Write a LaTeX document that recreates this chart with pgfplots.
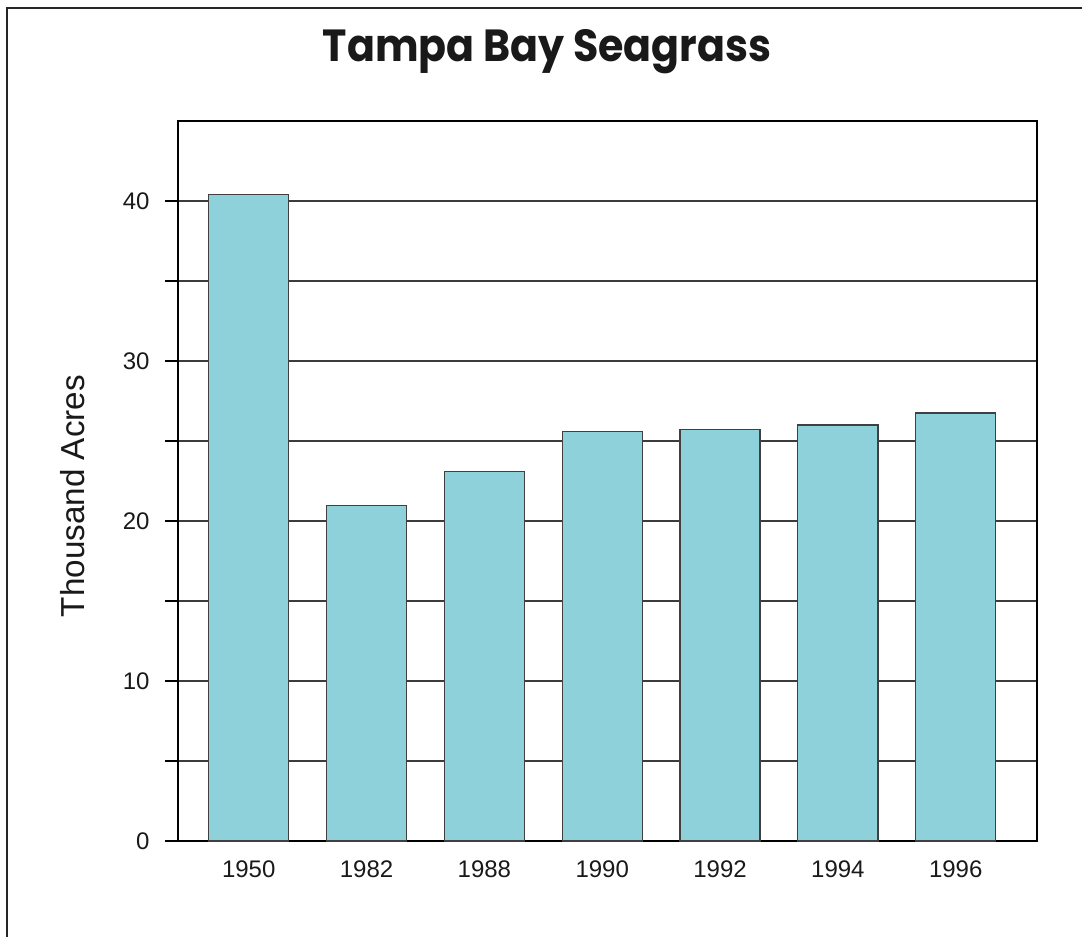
\documentclass[border=0pt]{standalone}
\usepackage{fontspec}
\setmainfont{Liberation Sans}
\newfontfamily\titlefont{Poppins}
\usepackage{graphicx}
\usepackage{pgfplots}
\pgfplotsset{compat=1.18}
\definecolor{barfill}{HTML}{8ED1DA}
\definecolor{gridc}{HTML}{3C3C3C}
\begin{document}
\begin{tikzpicture}
\useasboundingbox (0,0) rectangle (432.8pt,374.8pt);
\draw[line width=0.8pt, black!85] (2.8pt,0) -- (2.8pt,371.6pt) -- (432.8pt,371.6pt);
\node[anchor=base, font=\titlefont\bfseries\fontsize{18}{20}\selectfont, text=black!90] at (218.8pt,350pt) {\scalebox{0.915}[1]{Tampa Bay Seagrass}};
\begin{axis}[
  at={(71.2pt,38.4pt)}, anchor=south west,
  scale only axis, width=343.6pt, height=288pt,
  xmin=-0.6, xmax=6.69, ymin=0, ymax=45,
  xtick={0,1,2,3,4,5,6},
  xticklabels={1950,1982,1988,1990,1992,1994,1996},
  ytick={0,10,20,30,40},
  minor ytick={5,15,25,35},
  ytick pos=left,
  tick align=outside,
  major tick length=5.2pt, minor tick length=5.2pt,
  xtick style={draw=none},
  ytick style={line width=0.6pt, black},
  ymajorgrids, yminorgrids,
  major grid style={gridc, line width=0.5pt},
  minor grid style={gridc, line width=0.5pt},
  axis line style={black, line width=0.6pt},
  /pgf/number format/assume math mode=true,
  ticklabel style={font=\fontsize{9.6}{11}\selectfont, text=black!90},
  yticklabel style={inner sep=0pt, xshift=-6pt},
  xticklabel style={inner sep=0pt, yshift=-2.6pt},
  ylabel={Thousand Acres},
  every axis y label/.style={at={(axis description cs:-0.1222,0.479)}, rotate=90, anchor=center, font=\fontsize{13.3}{15}\selectfont, text=black!90},
]
\addplot[ybar, bar width=0.68, fill=barfill, draw=black!75, line width=0.5pt] coordinates {
(0,40.4) (1,20.95) (2,23.1) (3,25.6) (4,25.7) (5,26.0) (6,26.75)
};
\end{axis}
\end{tikzpicture}
\end{document}
